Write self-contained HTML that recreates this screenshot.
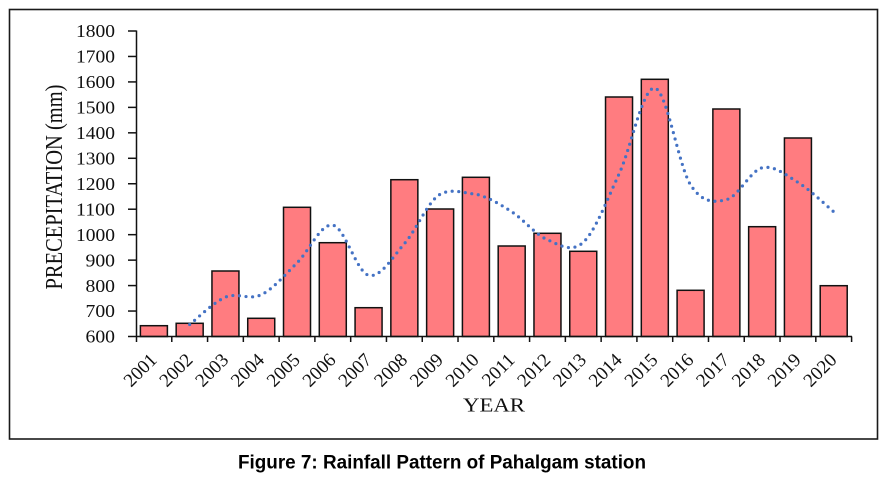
<!DOCTYPE html>
<html>
<head>
<meta charset="utf-8">
<style>
  html, body { margin:0; padding:0; background:#fff; }
  svg { display:block; }
</style>
</head>
<body>
<svg width="886" height="482" viewBox="0 0 886 482" xmlns="http://www.w3.org/2000/svg">
  <rect x="0" y="0" width="886" height="482" fill="#fff"/>
  <!-- outer frame -->
  <rect x="9.5" y="9.5" width="868" height="429.5" fill="none" stroke="#1a1a1a" stroke-width="1.6"/>

  <!-- bars -->
  <g fill="#FF7C80" stroke="#111" stroke-width="1.5">
    <rect x="140.39" y="325.7" width="27" height="10.8"/>
    <rect x="176.17" y="323.3" width="27" height="13.2"/>
    <rect x="211.95" y="271" width="27" height="65.5"/>
    <rect x="247.73" y="318.3" width="27" height="18.2"/>
    <rect x="283.51" y="207.3" width="27" height="129.2"/>
    <rect x="319.29" y="242.7" width="27" height="93.8"/>
    <rect x="355.07" y="307.7" width="27" height="28.8"/>
    <rect x="390.85" y="179.7" width="27" height="156.8"/>
    <rect x="426.63" y="209" width="27" height="127.5"/>
    <rect x="462.41" y="177.3" width="27" height="159.2"/>
    <rect x="498.19" y="246" width="27" height="90.5"/>
    <rect x="533.97" y="233.3" width="27" height="103.2"/>
    <rect x="569.75" y="251.3" width="27" height="85.2"/>
    <rect x="605.53" y="97" width="27" height="239.5"/>
    <rect x="641.31" y="79.3" width="27" height="257.2"/>
    <rect x="677.09" y="290.3" width="27" height="46.2"/>
    <rect x="712.87" y="109" width="27" height="227.5"/>
    <rect x="748.65" y="226.7" width="27" height="109.8"/>
    <rect x="784.43" y="138" width="27" height="198.5"/>
    <rect x="820.21" y="285.7" width="27" height="50.8"/>
  </g>

  <!-- moving average trend (dotted) -->
  <path fill="none" stroke="#4472C4" stroke-width="3.2" stroke-linecap="round" stroke-dasharray="0 6.6"
    d="M189.67,324.53
       C195.63,319.97 213.52,302.12 225.45,297.16
       C237.38,292.20 249.30,300.46 261.23,294.75
       C273.16,289.04 285.08,274.53 297.01,262.92
       C308.94,251.31 320.86,223.05 332.79,225.11
       C344.72,227.17 356.64,272.17 368.57,275.27
       C380.50,278.37 392.42,257.19 404.35,243.70
       C416.28,230.21 428.20,200.73 440.13,194.31
       C452.06,187.89 463.98,193.25 475.91,194.16
       C487.84,197.07 499.76,203.98 511.69,211.75
       C523.62,219.52 535.54,234.66 547.47,239.75
       C559.40,244.84 571.32,253.25 583.25,242.30
       C595.18,231.35 607.10,199.76 619.03,174.07
       C630.96,148.38 642.88,86.34 654.81,88.14
       C666.74,89.94 678.66,166.30 690.59,184.89
       C702.52,203.48 714.44,202.49 726.37,199.65
       C738.30,196.81 750.22,170.72 762.15,167.83
       C774.08,164.94 786.00,175.02 797.93,182.34
       C809.86,189.66 827.75,206.85 833.71,211.75"/>

  <!-- axes -->
  <g stroke="#111" stroke-width="1.5" fill="none">
    <line x1="136.5" y1="30.5" x2="136.5" y2="337"/>
    <line x1="136" y1="336.5" x2="852" y2="336.5"/>
    <!-- y ticks -->
    <line x1="128" y1="31" x2="136.5" y2="31"/>
    <line x1="128" y1="56.46" x2="136.5" y2="56.46"/>
    <line x1="128" y1="81.92" x2="136.5" y2="81.92"/>
    <line x1="128" y1="107.38" x2="136.5" y2="107.38"/>
    <line x1="128" y1="132.83" x2="136.5" y2="132.83"/>
    <line x1="128" y1="158.29" x2="136.5" y2="158.29"/>
    <line x1="128" y1="183.75" x2="136.5" y2="183.75"/>
    <line x1="128" y1="209.21" x2="136.5" y2="209.21"/>
    <line x1="128" y1="234.67" x2="136.5" y2="234.67"/>
    <line x1="128" y1="260.13" x2="136.5" y2="260.13"/>
    <line x1="128" y1="285.58" x2="136.5" y2="285.58"/>
    <line x1="128" y1="311.04" x2="136.5" y2="311.04"/>
    <line x1="128" y1="336.5" x2="136.5" y2="336.5"/>
    <!-- x ticks -->
    <line x1="136.5" y1="336.5" x2="136.5" y2="342"/>
    <line x1="171.78" y1="336.5" x2="171.78" y2="342"/>
    <line x1="207.56" y1="336.5" x2="207.56" y2="342"/>
    <line x1="243.34" y1="336.5" x2="243.34" y2="342"/>
    <line x1="279.12" y1="336.5" x2="279.12" y2="342"/>
    <line x1="314.9" y1="336.5" x2="314.9" y2="342"/>
    <line x1="350.68" y1="336.5" x2="350.68" y2="342"/>
    <line x1="386.46" y1="336.5" x2="386.46" y2="342"/>
    <line x1="422.24" y1="336.5" x2="422.24" y2="342"/>
    <line x1="458.02" y1="336.5" x2="458.02" y2="342"/>
    <line x1="493.8" y1="336.5" x2="493.8" y2="342"/>
    <line x1="529.58" y1="336.5" x2="529.58" y2="342"/>
    <line x1="565.36" y1="336.5" x2="565.36" y2="342"/>
    <line x1="601.14" y1="336.5" x2="601.14" y2="342"/>
    <line x1="636.92" y1="336.5" x2="636.92" y2="342"/>
    <line x1="672.7" y1="336.5" x2="672.7" y2="342"/>
    <line x1="708.48" y1="336.5" x2="708.48" y2="342"/>
    <line x1="744.26" y1="336.5" x2="744.26" y2="342"/>
    <line x1="780.04" y1="336.5" x2="780.04" y2="342"/>
    <line x1="815.82" y1="336.5" x2="815.82" y2="342"/>
    <line x1="851.6" y1="336.5" x2="851.6" y2="342"/>
  </g>

  <!-- y tick labels -->
  <g font-family="Liberation Serif, 'Times New Roman', serif" font-size="17.5" fill="#111" text-anchor="end">
    <text x="115" y="37.2" textLength="39" lengthAdjust="spacingAndGlyphs">1800</text>
    <text x="115" y="62.66" textLength="39" lengthAdjust="spacingAndGlyphs">1700</text>
    <text x="115" y="88.12" textLength="39" lengthAdjust="spacingAndGlyphs">1600</text>
    <text x="115" y="113.58" textLength="39" lengthAdjust="spacingAndGlyphs">1500</text>
    <text x="115" y="139.03" textLength="39" lengthAdjust="spacingAndGlyphs">1400</text>
    <text x="115" y="164.49" textLength="39" lengthAdjust="spacingAndGlyphs">1300</text>
    <text x="115" y="189.95" textLength="39" lengthAdjust="spacingAndGlyphs">1200</text>
    <text x="115" y="215.41" textLength="39" lengthAdjust="spacingAndGlyphs">1100</text>
    <text x="115" y="240.87" textLength="39" lengthAdjust="spacingAndGlyphs">1000</text>
    <text x="115" y="266.33" textLength="29.5" lengthAdjust="spacingAndGlyphs">900</text>
    <text x="115" y="291.78" textLength="29.5" lengthAdjust="spacingAndGlyphs">800</text>
    <text x="115" y="317.24" textLength="29.5" lengthAdjust="spacingAndGlyphs">700</text>
    <text x="115" y="342.7" textLength="29.5" lengthAdjust="spacingAndGlyphs">600</text>
  </g>

  <!-- x tick labels (rotated) -->
  <g font-family="Liberation Serif, 'Times New Roman', serif" font-size="19" fill="#111" text-anchor="end">
    <text transform="translate(158,361) rotate(-45)">2001</text>
    <text transform="translate(193.8,361) rotate(-45)">2002</text>
    <text transform="translate(229.6,361) rotate(-45)">2003</text>
    <text transform="translate(265.3,361) rotate(-45)">2004</text>
    <text transform="translate(301.1,361) rotate(-45)">2005</text>
    <text transform="translate(336.9,361) rotate(-45)">2006</text>
    <text transform="translate(372.7,361) rotate(-45)">2007</text>
    <text transform="translate(408.5,361) rotate(-45)">2008</text>
    <text transform="translate(444.2,361) rotate(-45)">2009</text>
    <text transform="translate(480,361) rotate(-45)">2010</text>
    <text transform="translate(515.8,361) rotate(-45)">2011</text>
    <text transform="translate(551.6,361) rotate(-45)">2012</text>
    <text transform="translate(587.4,361) rotate(-45)">2013</text>
    <text transform="translate(623.1,361) rotate(-45)">2014</text>
    <text transform="translate(658.9,361) rotate(-45)">2015</text>
    <text transform="translate(694.7,361) rotate(-45)">2016</text>
    <text transform="translate(730.5,361) rotate(-45)">2017</text>
    <text transform="translate(766.3,361) rotate(-45)">2018</text>
    <text transform="translate(802,361) rotate(-45)">2019</text>
    <text transform="translate(837.8,361) rotate(-45)">2020</text>
  </g>

  <!-- axis titles -->
  <text transform="translate(62,187) scale(1.2,1) rotate(-90)" text-anchor="middle"
        font-family="Liberation Serif, 'Times New Roman', serif" font-size="20" fill="#111"
        textLength="205" lengthAdjust="spacingAndGlyphs">PRECEPITATION (mm)</text>
  <text x="494" y="411.5" text-anchor="middle" font-family="Liberation Serif, 'Times New Roman', serif"
        font-size="20" fill="#111" textLength="62" lengthAdjust="spacingAndGlyphs">YEAR</text>

  <!-- caption -->
  <text x="238" y="468.5" font-family="Liberation Sans, Arial, sans-serif" font-weight="bold"
        font-size="19" fill="#000" textLength="408" lengthAdjust="spacingAndGlyphs">Figure 7: Rainfall Pattern of Pahalgam station</text>
</svg>
</body>
</html>
